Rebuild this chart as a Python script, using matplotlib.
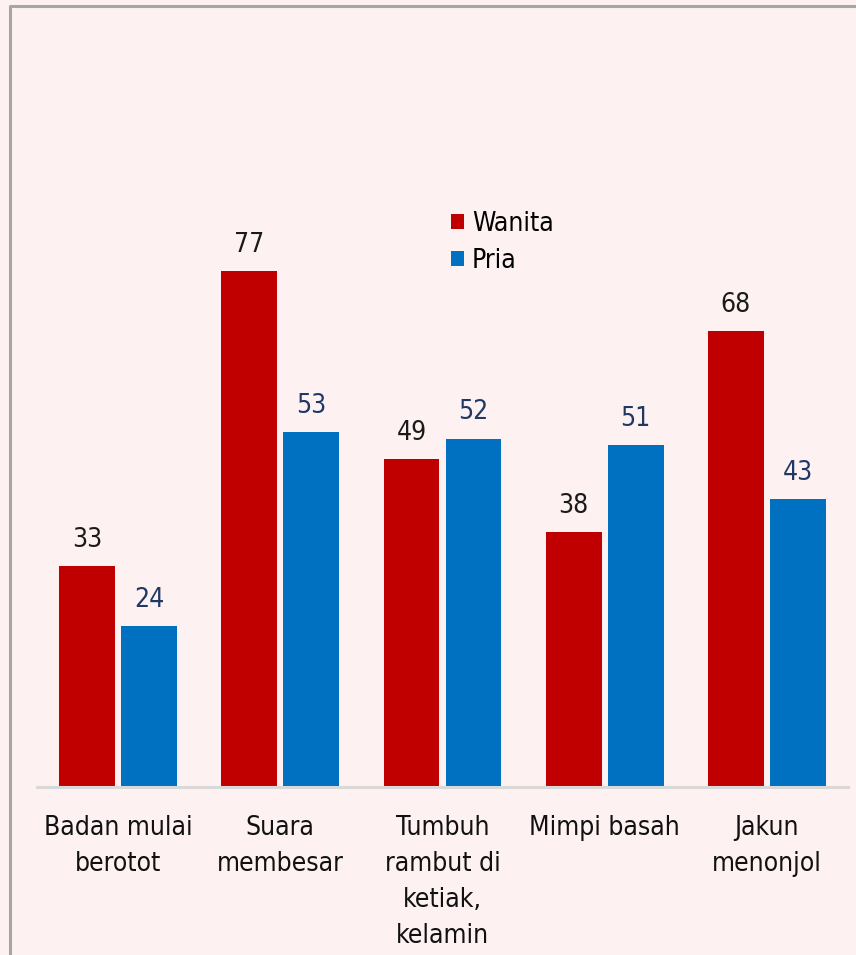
import numpy as np
import matplotlib.pyplot as plt
from matplotlib.lines import Line2D

# data
categories = ["Badan mulai\nberotot", "Suara\nmembesar", "Tumbuh\nrambut di\nketiak,\nkelamin",
              "Mimpi basah", "Jakun\nmenonjol"]
wanita = [33, 77, 49, 38, 68]
pria = [24, 53, 52, 51, 43]
series_names = ["Wanita", "Pria"]

RED = "#c00000"
BLUE = "#0070c0"
BG = "#fdf1f1"

plt.rcParams['font.family'] = ["DejaVu Sans"]
plt.rcParams['font.stretch'] = "condensed"

W, H = 856, 955
fig = plt.figure(figsize=(W / 100, H / 100), dpi=100)
fig.patch.set_facecolor(BG)

# axes placed in pixel terms
left, right, bottom, top = 37, 848, 787, 117
ax = fig.add_axes([left / W, (H - bottom) / H, (right - left) / W, (bottom - top) / H])
ax.set_facecolor(BG)

x = np.arange(len(categories))
bw = 0.345
off = 0.191
ax.bar(x - off, wanita, width=bw, color=RED, label=series_names[0])
ax.bar(x + off, pria, width=bw, color=BLUE, label=series_names[1])

for xi, v in zip(x, wanita):
    ax.text(xi - off, v + 3.9, str(v), ha='center', va='center', fontsize=19, color="#1a1a1a")
for xi, v in zip(x, pria):
    ax.text(xi + off, v + 3.9, str(v), ha='center', va='center', fontsize=19, color="#1f3864")

ax.set_xlim(-0.5, len(categories) - 0.5)
ax.set_ylim(0, 100)
ax.set_yticks([])
ax.set_xticks(x)
ax.set_xticklabels(categories, fontsize=19, color="#111111", linespacing=1.5)
ax.tick_params(axis='x', length=0, pad=20)
for s in ["top", "left", "right"]:
    ax.spines[s].set_visible(False)
ax.spines["bottom"].set_color("#d9d9d9")
ax.spines["bottom"].set_linewidth(2.2)

leg = ax.legend(loc='upper left', bbox_to_anchor=(0.497, 0.875), frameon=False, fontsize=19,
                handlelength=0.5, handleheight=0.5, handletextpad=0.3, labelspacing=0.4,
                borderaxespad=0)

# outer gray border (top and left only visible)
fig.add_artist(Line2D([10 / W, 10 / W, 1.0], [0.0, 1 - 6 / H, 1 - 6 / H],
                      transform=fig.transFigure, color="#a6a6a6", linewidth=2.2))

fig.savefig("out.png", dpi=100, facecolor=BG)
